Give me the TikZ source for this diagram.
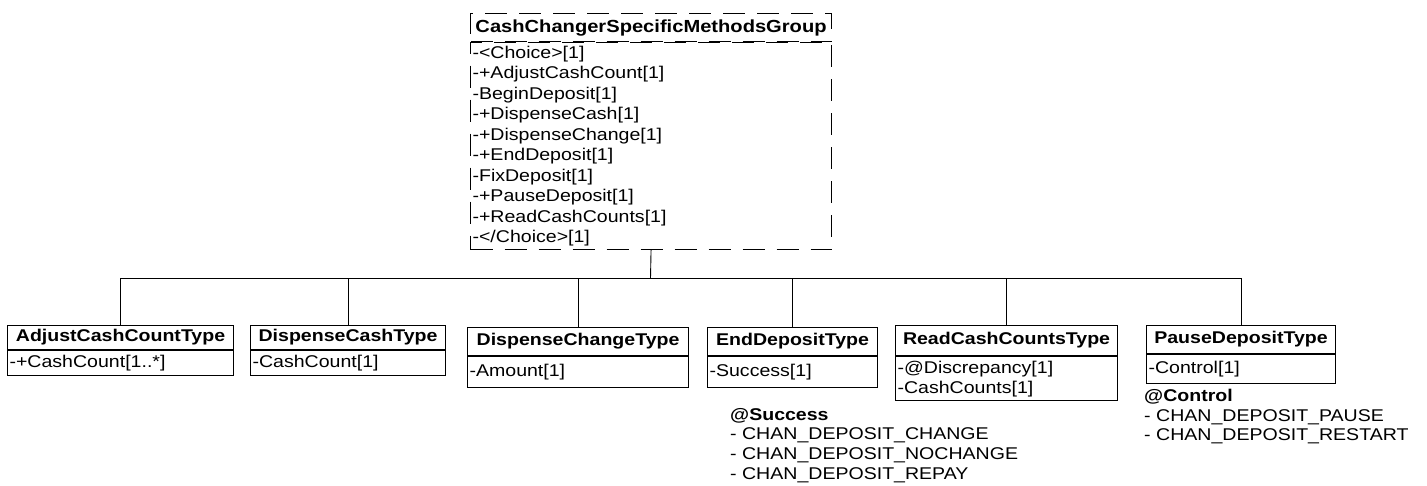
\documentclass[tikz,border=0pt]{standalone}
\usepackage{fontspec}
\setmainfont[FakeStretch=1.15]{Liberation Sans}
\begin{document}
\begin{tikzpicture}[x=1pt,y=-1pt,
  box/.style={draw, line width=1.1pt, inner xsep=2pt, inner ysep=0pt, anchor=north west},
  ttl/.style={box, font=\fontsize{17}{20}\selectfont\bfseries, align=center},
  att/.style={box, font=\fontsize{17}{20.5}\selectfont, align=left},
  grpline/.style={dash pattern=on 22pt off 12pt},
  note/.style={anchor=north west, inner sep=0pt, align=left, font=\fontsize{17}{19.6}\selectfont},
  link/.style={line width=0.9pt}]
\useasboundingbox (0,0) rectangle (1427,485);

% group box
\node[ttl, grpline, minimum width=361pt, minimum height=28pt, font=\fontsize{17.5}{20}\selectfont\bfseries] (grpT) at (470,13) {CashChangerSpecificMethodsGroup};
\node[att, grpline, text width=357pt, minimum height=207pt] (grpB) at (grpT.south west)
 {-<Choice>[1]\\-+AdjustCashCount[1]\\-BeginDeposit[1]\\-+DispenseCash[1]\\-+DispenseChange[1]\\-+EndDeposit[1]\\-FixDeposit[1]\\-+PauseDeposit[1]\\-+ReadCashCounts[1]\\-</Choice>[1]};

% children
\node[ttl, minimum width=226pt, minimum height=24pt] (adjT) at (7,325) {AdjustCashCountType};
\node[att, text width=222pt, minimum height=25pt] (adjB) at (adjT.south west) {-+CashCount[1..*]};

\node[ttl, minimum width=195pt, minimum height=24pt] (dcaT) at (250,325) {DispenseCashType};
\node[att, text width=191pt, minimum height=25pt] (dcaB) at (dcaT.south west) {-CashCount[1]};

\node[ttl, minimum width=221pt, minimum height=28pt] (dchT) at (467,327) {DispenseChangeType};
\node[att, text width=217pt, minimum height=31pt] (dchB) at (dchT.south west) {-Amount[1]};

\node[ttl, minimum width=170pt, minimum height=28pt] (endT) at (707,327) {EndDepositType};
\node[att, text width=166pt, minimum height=31pt] (endB) at (endT.south west) {-Success[1]};

\node[ttl, minimum width=222pt, minimum height=30pt] (rccT) at (895,325) {ReadCashCountsType};
\node[att, text width=218pt, minimum height=44pt, font=\fontsize{17}{20}\selectfont] (rccB) at (rccT.south west) {-@Discrepancy[1]\\-CashCounts[1]};

\node[ttl, minimum width=189pt, minimum height=28pt] (pauT) at (1146,325) {PauseDepositType};
\node[att, text width=185pt, minimum height=29pt] (pauB) at (pauT.south west) {-Control[1]};

% notes
\node[note] (succ) at (730,408) {\textbf{@Success}\\- CHAN\_DEPOSIT\_CHANGE\\- CHAN\_DEPOSIT\_NOCHANGE\\- CHAN\_DEPOSIT\_REPAY};
\node[note] (ctrl) at (1144,389) {\textbf{@Control}\\- CHAN\_DEPOSIT\_PAUSE\\- CHAN\_DEPOSIT\_RESTART};

% connectors
\coordinate (bus) at (650.5,278);
\draw[link] (grpB.south) -- (bus);
\draw[link] (bus -| adjT.north) -- (bus -| pauT.north);
\foreach \c in {adjT,dcaT,dchT,endT,rccT,pauT}
  \draw[link] (bus -| \c.north) -- (\c.north);
\end{tikzpicture}
\end{document}
